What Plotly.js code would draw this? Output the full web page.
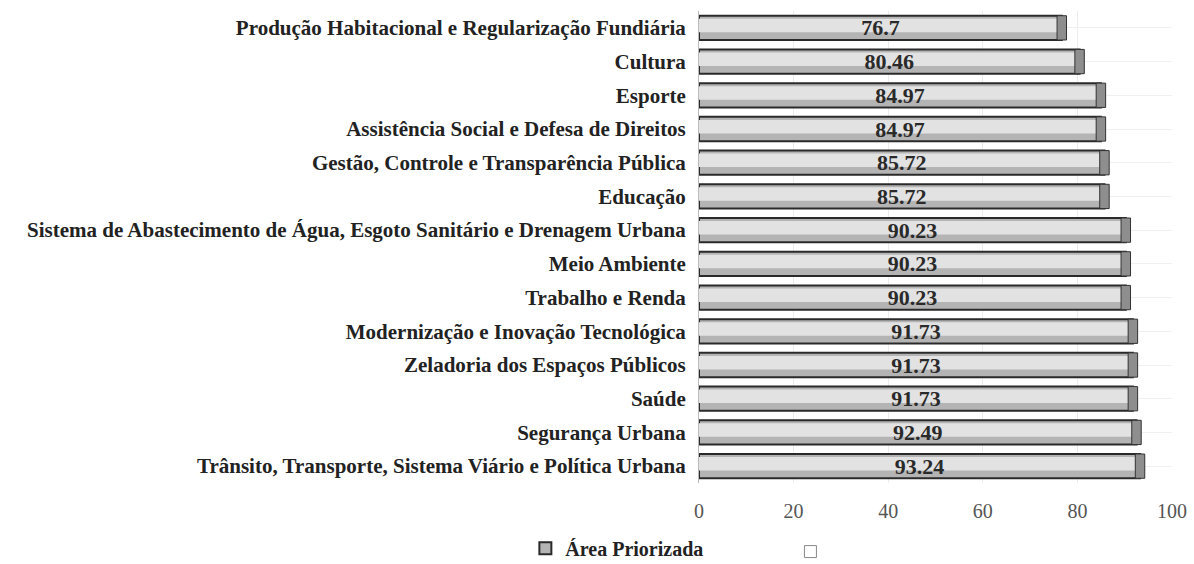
<!DOCTYPE html>
<html><head><meta charset="utf-8">
<script src="https://cdn.plot.ly/plotly-3.0.1.min.js"></script>
<style>html,body{margin:0;padding:0;background:#fff}</style>
</head><body>
<div id="chart" style="width:1194px;height:564px"></div>
<script>
const categories = [
  "Produção Habitacional e Regularização Fundiária",
  "Cultura",
  "Esporte",
  "Assistência Social e Defesa de Direitos",
  "Gestão, Controle e Transparência Pública",
  "Educação",
  "Sistema de Abastecimento de Água, Esgoto Sanitário e Drenagem Urbana",
  "Meio Ambiente",
  "Trabalho e Renda",
  "Modernização e Inovação Tecnológica",
  "Zeladoria dos Espaços Públicos",
  "Saúde",
  "Segurança Urbana",
  "Trânsito, Transporte, Sistema Viário e Política Urbana"
];
const areaPriorizada = [76.7, 80.46, 84.97, 84.97, 85.72, 85.72, 90.23, 90.23, 90.23, 91.73, 91.73, 91.73, 92.49, 93.24];
const emptySeries = categories.map(() => null);
const seriesNames = ["Área Priorizada", ""];
const xTicks = [0, 20, 40, 60, 80, 100];

const serif = "Liberation Serif, Times New Roman, serif";
const capHalf = 1.0;

const traces = [
  {
    type: "bar", orientation: "h", y: categories, x: areaPriorizada,
    name: seriesNames[0],
    marker: {color: "#b4b4b4", line: {color: "#2a2a2a", width: 2}},
    width: 0.72,
    hoverinfo: "x+y"
  },
  {
    type: "bar", orientation: "h", y: categories, x: areaPriorizada,
    name: "highlight", showlegend: false,
    marker: {color: "#e2e2e2", line: {width: 0}},
    width: 0.4, offset: -0.27,
    hoverinfo: "skip"
  },
  {
    type: "bar", orientation: "h", y: categories,
    base: areaPriorizada.map(v => v - capHalf), x: areaPriorizada.map(() => 2 * capHalf),
    name: "cap", showlegend: false,
    marker: {color: "#8e8e8e", line: {color: "#333", width: 1}},
    width: 0.72,
    hoverinfo: "skip"
  },
  {
    type: "bar", orientation: "h", y: categories, x: areaPriorizada,
    name: "labels", showlegend: false,
    marker: {color: "rgba(0,0,0,0)", line: {width: 0}},
    width: 0.72,
    text: areaPriorizada.map(v => String(v)),
    textposition: "inside", insidetextanchor: "middle", constraintext: "none",
    textfont: {family: serif, size: 22, color: "#2a2a2a", weight: "bold"},
    hoverinfo: "skip"
  },
  {
    type: "bar", orientation: "h", y: categories, x: emptySeries,
    name: seriesNames[1], legend: "legend2",
    marker: {color: "#ffffff", line: {color: "#888", width: 1}},
    hoverinfo: "skip"
  }
];

const layout = {
  width: 1194, height: 564,
  margin: {l: 699, r: 22, t: 11, b: 81},
  paper_bgcolor: "#ffffff", plot_bgcolor: "#ffffff",
  barmode: "overlay",
  showlegend: true,
  legend: {
    orientation: "h", xref: "container", yref: "container",
    x: 0.44, y: 0.028, xanchor: "left", yanchor: "middle",
    font: {family: serif, size: 20, color: "#222", weight: "bold"},
    itemwidth: 30
  },
  legend2: {
    orientation: "h", xref: "container", yref: "container",
    x: 0.662, y: 0.022, xanchor: "left", yanchor: "middle",
    font: {family: serif, size: 20, color: "#222"},
    itemwidth: 30
  },
  xaxis: {
    range: [0, 100], tickvals: xTicks, ticktext: xTicks.map(String),
    showgrid: true, gridcolor: "#ececec", gridwidth: 1,
    zeroline: false, showline: false, ticks: "", ticklabelstandoff: 14,
    tickfont: {family: serif, size: 20, color: "#555"}
  },
  yaxis: {
    type: "category",
    range: [categories.length - 0.5, -0.5],
    showgrid: true, gridcolor: "#f0f0f0",
    showline: true, linecolor: "#bbb", linewidth: 1,
    ticks: "", ticklabelstandoff: 8,
    tickfont: {family: serif, size: 21, color: "#222", weight: "bold"}
  }
};

Plotly.newPlot("chart", traces, layout, {displayModeBar: false, staticPlot: true});
</script>
</body></html>
